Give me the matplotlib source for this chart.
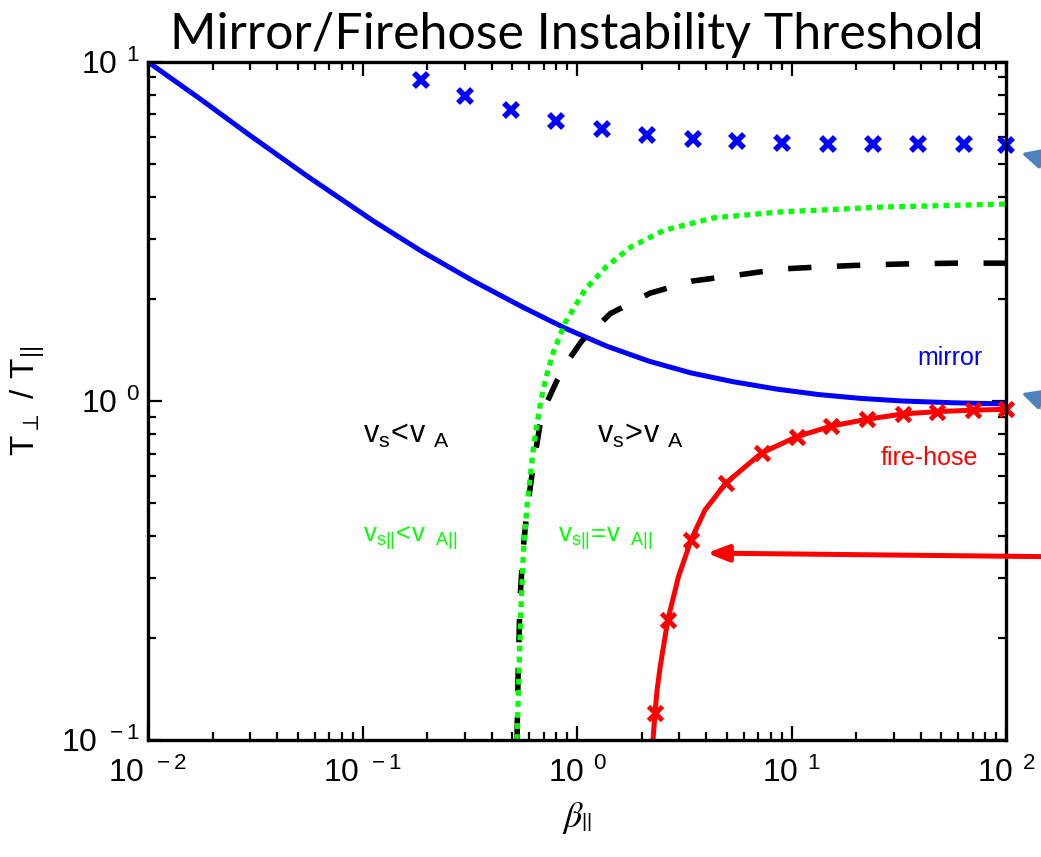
import matplotlib
matplotlib.use('Agg')
import matplotlib.pyplot as plt
import matplotlib.patheffects as pe

plt.rcParams['font.family'] = ['Liberation Sans', 'DejaVu Sans']
plt.rcParams['mathtext.fontset'] = 'custom'
plt.rcParams['mathtext.rm'] = 'Liberation Sans'
plt.rcParams['mathtext.it'] = 'Liberation Sans:italic'
plt.rcParams['mathtext.bf'] = 'Liberation Sans:bold'

# mirror threshold (solid blue)
beta_mirror = [0.01, 0.0175, 0.0299, 0.0551, 0.112, 0.191, 0.328, 0.560,
               0.879, 1.38, 2.17, 3.40, 5.34, 8.47, 13.3, 20.9, 32.8,
               56.6, 100]
ratio_mirror = [10.0, 7.78, 6.07, 4.61, 3.40, 2.75, 2.26, 1.89,
                1.64, 1.45, 1.31, 1.21, 1.14, 1.085, 1.045, 1.018, 1.0,
                0.988, 0.98]

# mirror, simulation points (blue crosses)
beta_mirror_sim = [0.187, 0.301, 0.492, 0.798, 1.31, 2.12, 3.47, 5.57,
                   9.03, 14.8, 24.0, 38.9, 63.7, 100]
ratio_mirror_sim = [8.85, 7.94, 7.22, 6.70, 6.35, 6.09, 5.93, 5.85,
                    5.77, 5.73, 5.73, 5.73, 5.73, 5.69]

# v_s|| = v_A|| (green dotted)
beta_green = [0.525, 0.537, 0.548, 0.563, 0.588, 0.630, 0.679, 0.732,
              0.773, 0.879, 1.09, 1.37, 1.79, 2.55, 4.35, 8.84, 25.9, 100]
ratio_green = [0.1, 0.164, 0.247, 0.363, 0.510, 0.752, 1.007, 1.234,
               1.385, 1.70, 2.13, 2.49, 2.85, 3.19, 3.47, 3.61, 3.73, 3.81]

# v_s = v_A (black dashed)
beta_dash = [0.525, 0.531, 0.542, 0.560, 0.585, 0.624, 0.672, 0.725,
             0.807, 0.92, 1.05, 1.43, 2.19, 3.47, 5.57, 8.84, 14.3, 22.7,
             36.5, 59.1, 100]
ratio_dash = [0.1, 0.153, 0.259, 0.363, 0.477, 0.639, 0.849, 0.993,
              1.15, 1.33, 1.50, 1.81, 2.08, 2.26, 2.35, 2.45, 2.49, 2.52,
              2.54, 2.55, 2.55]

# fire-hose threshold (solid red) and simulation points
beta_fh_line = [2.26, 2.31, 2.36, 2.44, 2.65, 2.97, 3.40, 3.95, 4.95, 7.26,
                10.6, 15.3, 22.4, 33.1, 47.7, 70.2, 100]
ratio_fh_line = [0.1, 0.120, 0.140, 0.164, 0.226, 0.303, 0.389, 0.477, 0.573,
                 0.703, 0.785, 0.843, 0.883, 0.916, 0.930, 0.940, 0.945]
beta_fh_sim = [2.31, 2.65, 3.40, 4.95, 7.26, 10.6, 15.3, 22.4, 33.1,
               47.7, 70.2, 100]
ratio_fh_sim = [0.120, 0.226, 0.389, 0.573, 0.703, 0.785, 0.843, 0.883,
                0.916, 0.930, 0.940, 0.945]

xticks = [1e-2, 1e-1, 1e0, 1e1, 1e2]
xticklabels = [r'$\mathregular{10^{\ \,-2}}$', r'$\mathregular{10^{\ \,-1}}$',
               r'$\mathregular{10^{\ \,0}}$', r'$\mathregular{10^{\ \,1}}$',
               r'$\mathregular{10^{\ \,2}}$']
yticks = [1e-1, 1e0, 1e1]
yticklabels = [r'$\mathregular{10^{\ \,-1}}$', r'$\mathregular{10^{\ \,0}}$',
               r'$\mathregular{10^{\ \,1}}$']

fig = plt.figure(figsize=(10.41, 8.57), dpi=100)
ax = fig.add_axes([0.1422, 0.1365, 0.8242, 0.7912])
ax.set_xscale('log')
ax.set_yscale('log')

ax.plot(beta_mirror, ratio_mirror, color='b', lw=3.6)
ax.plot(beta_dash, ratio_dash, color='k', lw=4.0, ls=(0, (4.2, 4.6)))
ax.plot(beta_green, ratio_green, color=(0, 1, 0), lw=3.8, ls=(0, (1.1, 1.0)))
ax.plot(beta_fh_line, ratio_fh_line, color='r', lw=3.6)
ax.plot(beta_fh_sim, ratio_fh_sim, 'x', color='r', ms=10, mew=3.5, clip_on=False)
ax.plot(beta_mirror_sim, ratio_mirror_sim, 'x', color='b', ms=10, mew=4,
        clip_on=False)

ax.set_xlim(1e-2, 1e2)
ax.set_ylim(1e-1, 1e1)
ax.set_xticks(xticks)
ax.set_xticklabels(xticklabels)
ax.set_yticks(yticks)
ax.set_yticklabels(yticklabels)
ax.tick_params(which='both', direction='in', top=True, right=True,
               width=1.6, labelsize=23)
ax.tick_params(which='major', length=10)
ax.tick_params(which='minor', length=6)
ax.tick_params(axis='x', pad=13)
ax.tick_params(axis='y', pad=6)
for s in ax.spines.values():
    s.set_linewidth(2.4)

ax.set_xlabel(r'$\beta_{||}$', fontsize=26, math_fontfamily='stix', labelpad=8)
ax.set_ylabel(r'$\mathregular{T_{\perp}\ /\ T_{||}}$', fontsize=24,
              math_fontfamily='dejavusans', labelpad=10)
ax.set_title('Mirror/Firehose Instability Threshold', fontsize=36,
             family='Lato', pad=9)

# region labels
ax.text(0.1005, 0.752, r'$\mathregular{v_s\!{<}\!v\ {}_A}$', fontsize=22,
        color='k', ha='left', va='baseline')
ax.text(1.24, 0.752, r'$\mathregular{v_s\!{>}\!v\ {}_A}$', fontsize=22,
        color='k', ha='left', va='baseline')
ax.text(0.1005, 0.385, r'$\mathregular{v_{s||}\!{<}\!v\ \,{}_{A||}}$',
        fontsize=18.5, color=(0, 1, 0), ha='left', va='baseline')
ax.text(0.815, 0.385, r'$\mathregular{v_{s||}\!{=}\!v\ \,{}_{A||}}$',
        fontsize=18.5, color=(0, 1, 0), ha='left', va='baseline')
ax.text(54.6, 1.34, 'mirror', fontsize=18, color='b', ha='center', va='center')
ax.text(44.1, 0.681, 'fire-hose', fontsize=18, color='r', ha='center',
        va='center')

# callout arrows coming in from the right edge
shadow = [pe.withSimplePatchShadow(offset=(2, -2), alpha=0.35)]
arrow_blue = dict(arrowstyle='-|>,head_length=0.8,head_width=0.4',
                  color='#4F81BD', lw=2.5, mutation_scale=15, shrinkA=0,
                  shrinkB=0)
for tip_y, tail_y in [(5.38, 0.8016), (1.054, 0.518)]:
    a = ax.annotate('', xy=(118, tip_y), xycoords='data',
                    xytext=(1.04, tail_y), textcoords='figure fraction',
                    arrowprops=arrow_blue, annotation_clip=False)
    a.arrow_patch.set_path_effects(shadow)

a = ax.annotate('', xy=(4.03, 0.356), xycoords='data',
                xytext=(1.04, 0.350), textcoords='figure fraction',
                arrowprops=dict(arrowstyle='-|>,head_length=0.9,head_width=0.35',
                                color='r', lw=3.6, mutation_scale=14,
                                shrinkA=0, shrinkB=0),
                annotation_clip=False)
a.arrow_patch.set_path_effects(shadow)

fig.savefig('out.png', dpi=100)
